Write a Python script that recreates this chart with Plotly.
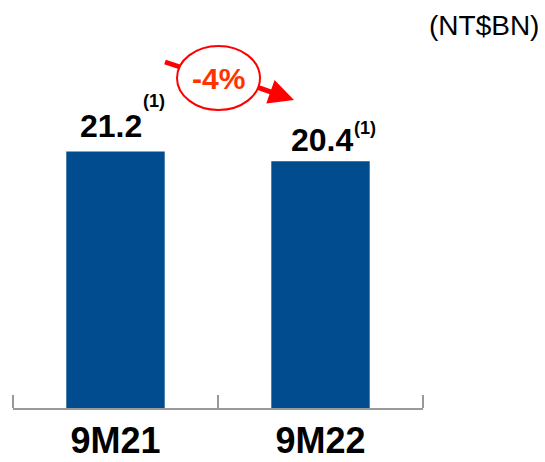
import plotly.graph_objects as go

# Chart data
periods = ['9M21', '9M22']
values = [21.2, 20.4]
value_labels = ['21.2', '20.4']
footnote = '(1)'
change_label = '-4%'
unit_label = '(NT$BN)'

W, H = 545, 462
# plot area in pixels
L, R, B = 13, 423, 408
T = 0


def px(x):
    # pixel x -> paper x
    return (x - L) / (R - L)


def py(y):
    # pixel y -> paper y
    return (B - y) / (B - T)


font_family = 'Liberation Sans, Arial, sans-serif'
axis_grey = '#999999'

fig = go.Figure()

fig.add_trace(go.Bar(x=periods, y=values, width=0.48,
                     marker=dict(color='#004C8E', line=dict(width=0)),
                     hoverinfo='skip'))

# value labels and footnote markers (offsets per bar)
num_shift = [(-5, 25), (1, 21)]
sup_shift = [(38, 50), (44, 33)]
for p, v, lab, ns, ss in zip(periods, values, value_labels, num_shift, sup_shift):
    fig.add_annotation(x=p, y=v, xref='x', yref='y', text='<b>' + lab + '</b>',
                       showarrow=False, xanchor='center', yanchor='middle',
                       xshift=ns[0], yshift=ns[1],
                       font=dict(family=font_family, size=32, color='#000000'))
    fig.add_annotation(x=p, y=v, xref='x', yref='y', text='<b>' + footnote + '</b>',
                       showarrow=False, xanchor='center', yanchor='middle',
                       xshift=ss[0], yshift=ss[1],
                       font=dict(family=font_family, size=18, color='#000000'))

# end ticks of the category axis
for xe in (0, 1):
    fig.add_shape(type='line', xref='paper', yref='paper',
                  x0=xe, x1=xe, y0=0, y1=py(395),
                  line=dict(color=axis_grey, width=2))

# change bubble
fig.add_shape(type='circle', xref='paper', yref='paper',
              x0=px(177), x1=px(260), y0=py(110), y1=py(46),
              line=dict(color='#FF0000', width=2), fillcolor='rgba(0,0,0,0)')
fig.add_shape(type='line', xref='paper', yref='paper',
              x0=px(165), y0=py(62), x1=px(180), y1=py(67),
              line=dict(color='#FF0000', width=5))
fig.add_annotation(xref='paper', yref='paper', x=px(294), y=py(100),
                   ax=257 - 294, ay=87 - 100, text='', showarrow=True,
                   arrowhead=2, arrowsize=1, arrowwidth=5, arrowcolor='#FF0000')
fig.add_annotation(xref='paper', yref='paper', x=px(218), y=py(79),
                   xanchor='center', yanchor='middle',
                   text='<b>' + change_label + '</b>', showarrow=False,
                   font=dict(family=font_family, size=30, color='#FF3300'))

# unit label
fig.add_annotation(xref='paper', yref='paper', x=px(541), y=py(8),
                   xanchor='right', yanchor='top', text=unit_label, showarrow=False,
                   font=dict(family=font_family, size=28, color='#000000'))

fig.update_layout(
    width=W, height=H,
    margin=dict(l=L, r=W - R, t=T, b=H - B, pad=0, autoexpand=False),
    paper_bgcolor='white', plot_bgcolor='white',
    showlegend=False,
    bargap=0.52,
)
fig.update_xaxes(range=[-0.5, 1.5], showline=True, linecolor=axis_grey, linewidth=2,
                 ticks='inside', tickson='boundaries', ticklen=13,
                 tickcolor=axis_grey, tickwidth=2, automargin=False,
                 showgrid=False, zeroline=False, ticklabelstandoff=0,
                 tickfont=dict(family=font_family, size=36, color='#000000'),
                 tickprefix='<b>', ticksuffix='</b>', fixedrange=True)
fig.update_yaxes(range=[0, 408 / 12.1], visible=False, showgrid=False,
                 zeroline=False, fixedrange=True, automargin=False)

fig.write_html('out.html', config={'displayModeBar': False},
               post_script="document.body.style.margin='0';")
